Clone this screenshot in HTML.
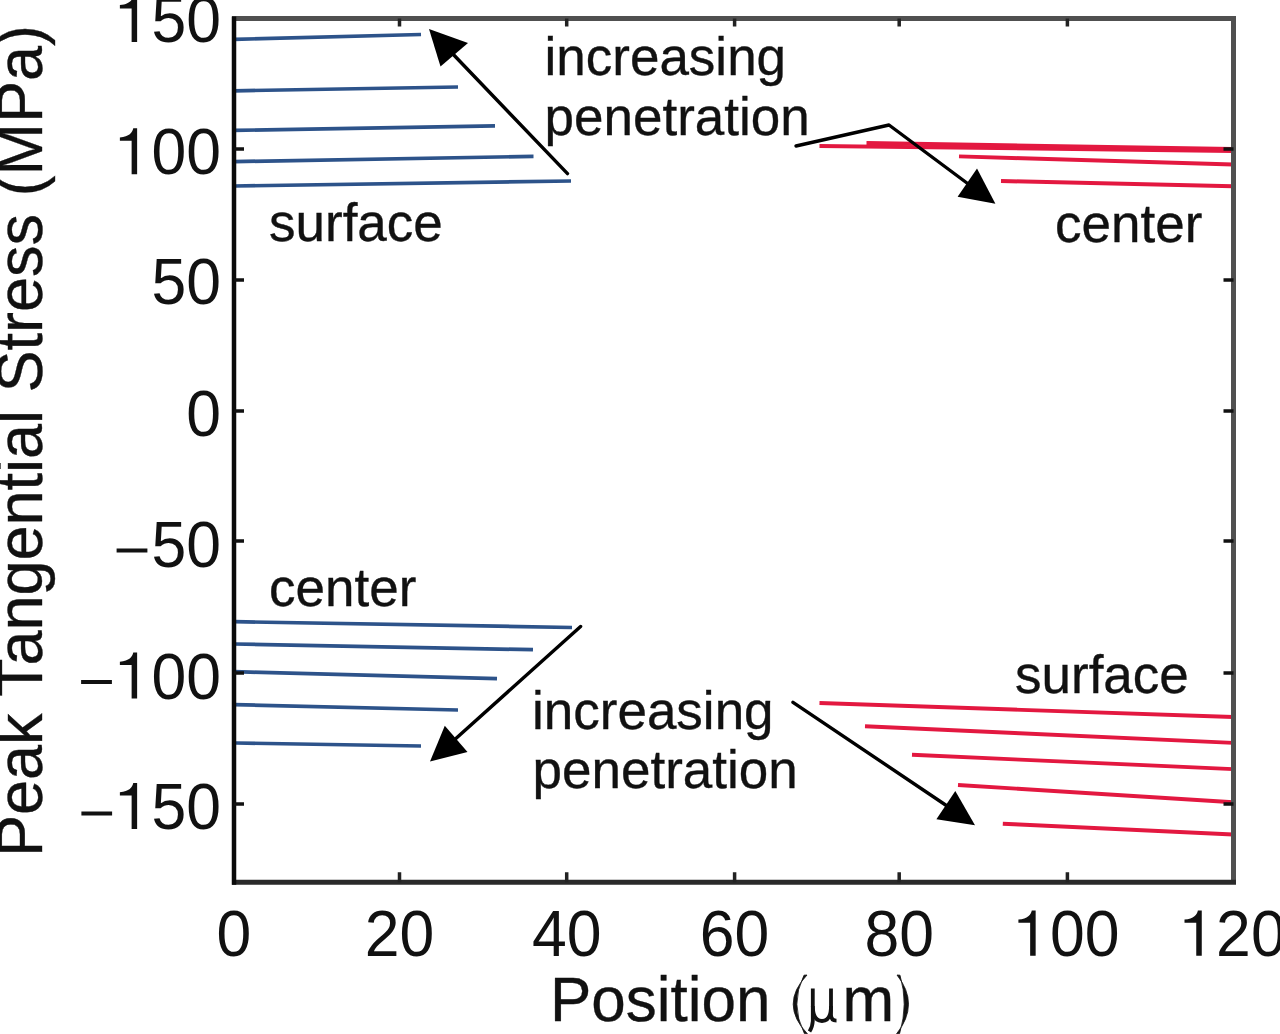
<!DOCTYPE html>
<html><head><meta charset="utf-8">
<style>
html,body{margin:0;padding:0;background:#fff;width:1280px;height:1034px;overflow:hidden}
svg{display:block;filter:blur(0.6px)}
text{font-family:"Liberation Sans",sans-serif;fill:#111;stroke:#111;stroke-width:0.35px}
text.d{stroke:none}
</style></head><body>
<svg width="1280" height="1034" viewBox="0 0 1280 1034">
<rect x="0" y="0" width="1280" height="1034" fill="#fff"/>
<defs>
<path id="one" d="M326 0V703H264C252 640 200 574 50 562V512H238V0Z"/>
</defs>

<line x1="234" y1="39.4" x2="421" y2="34.5" stroke="#2d538a" stroke-width="3.7" />
<line x1="234" y1="90.8" x2="458" y2="87" stroke="#2d538a" stroke-width="3.7" />
<line x1="234" y1="130.4" x2="495" y2="125.8" stroke="#2d538a" stroke-width="3.7" />
<line x1="234" y1="161.6" x2="533.5" y2="156.4" stroke="#2d538a" stroke-width="3.7" />
<line x1="234" y1="186" x2="571" y2="181" stroke="#2d538a" stroke-width="3.7" />
<line x1="234" y1="621.7" x2="572" y2="627.5" stroke="#2d538a" stroke-width="3.7" />
<line x1="234" y1="644" x2="533" y2="649.7" stroke="#2d538a" stroke-width="3.7" />
<line x1="234" y1="671.7" x2="497" y2="678.6" stroke="#2d538a" stroke-width="3.7" />
<line x1="234" y1="704.6" x2="458" y2="710" stroke="#2d538a" stroke-width="3.7" />
<line x1="236" y1="743" x2="421" y2="746" stroke="#2d538a" stroke-width="3.7" />
<line x1="819.5" y1="146" x2="1233" y2="151" stroke="#e31840" stroke-width="3.9" />
<line x1="866.5" y1="143" x2="1233" y2="149" stroke="#e31840" stroke-width="3.9" />
<line x1="959" y1="156.4" x2="1233" y2="164.5" stroke="#e31840" stroke-width="3.9" />
<line x1="1001" y1="181" x2="1233" y2="186.2" stroke="#e31840" stroke-width="3.9" />
<line x1="819.5" y1="703" x2="1233" y2="717" stroke="#e31840" stroke-width="3.9" />
<line x1="865" y1="726.2" x2="1233" y2="742.9" stroke="#e31840" stroke-width="3.9" />
<line x1="912" y1="754.8" x2="1233" y2="769.1" stroke="#e31840" stroke-width="3.9" />
<line x1="958" y1="785" x2="1233" y2="802.2" stroke="#e31840" stroke-width="3.9" />
<line x1="1002.8" y1="823.7" x2="1233" y2="834.5" stroke="#e31840" stroke-width="3.9" />
<line x1="234" y1="16.0" x2="1233.5" y2="16.0" stroke="#fff" stroke-width="0"/>
<line x1="232" y1="18.5" x2="1236.0" y2="18.5" stroke="#505050" stroke-width="5"/>
<line x1="1233.5" y1="18.5" x2="1233.5" y2="882.3" stroke="#505050" stroke-width="5"/>
<line x1="232" y1="882.3" x2="1236.0" y2="882.3" stroke="#2a2a2a" stroke-width="5"/>
<line x1="234" y1="16.5" x2="234" y2="884.8" stroke="#0a0a0a" stroke-width="4.5"/>
<path d="M234 149h10M1233.5 149h-10M234 280h10M1233.5 280h-10M234 411h10M1233.5 411h-10M234 541h10M1233.5 541h-10M234 673h10M1233.5 673h-10M234 804h10M1233.5 804h-10" stroke="#111" stroke-width="3.5" fill="none"/>
<path d="M399.5 882.3v-10M399.5 18.5v8M566.7 882.3v-10M566.7 18.5v8M734.6 882.3v-10M734.6 18.5v8M899.2 882.3v-10M899.2 18.5v8M1067.4 882.3v-10M1067.4 18.5v8" stroke="#222" stroke-width="3.5" fill="none"/>
<g stroke="#000" stroke-width="3.4" fill="none" stroke-linecap="round" stroke-linejoin="round">
<line x1="567.5" y1="173.6" x2="450" y2="51"/>
<polyline points="796,146 889,125 975,189"/>
<line x1="580.6" y1="626.5" x2="452" y2="742"/>
<line x1="793" y1="702.3" x2="956" y2="812"/>
</g><g fill="#000">
<polygon points="429,29 468,43 440.5,66.6"/>
<polygon points="995.4,203.7 977,168.4 957.6,196.8"/>
<polygon points="430,761.5 444.8,725.8 467.5,751.9"/>
<polygon points="975,825.2 955.3,790.9 936.4,819.2"/>
</g>
<use href="#one" transform="translate(116.75,42) scale(0.0625,-0.065625)" fill="#111"/>
<text class="d" transform="translate(151.50,42) scale(1,1.05)" font-size="62.5">5</text>
<text class="d" transform="translate(186.25,42) scale(1,1.05)" font-size="62.5">0</text>
<use href="#one" transform="translate(116.75,174.3) scale(0.0625,-0.065625)" fill="#111"/>
<text class="d" transform="translate(151.50,174.3) scale(1,1.05)" font-size="62.5">0</text>
<text class="d" transform="translate(186.25,174.3) scale(1,1.05)" font-size="62.5">0</text>
<text class="d" transform="translate(151.50,304.2) scale(1,1.05)" font-size="62.5">5</text>
<text class="d" transform="translate(186.25,304.2) scale(1,1.05)" font-size="62.5">0</text>
<text class="d" transform="translate(186.25,435.5) scale(1,1.05)" font-size="62.5">0</text>
<text class="d" transform="translate(151.50,567.3) scale(1,1.05)" font-size="62.5">5</text>
<text class="d" transform="translate(186.25,567.3) scale(1,1.05)" font-size="62.5">0</text>
<use href="#one" transform="translate(116.75,698.6) scale(0.0625,-0.065625)" fill="#111"/>
<text class="d" transform="translate(151.50,698.6) scale(1,1.05)" font-size="62.5">0</text>
<text class="d" transform="translate(186.25,698.6) scale(1,1.05)" font-size="62.5">0</text>
<use href="#one" transform="translate(116.75,829.1) scale(0.0625,-0.065625)" fill="#111"/>
<text class="d" transform="translate(151.50,829.1) scale(1,1.05)" font-size="62.5">5</text>
<text class="d" transform="translate(186.25,829.1) scale(1,1.05)" font-size="62.5">0</text>
<rect x="116.6" y="548.5" width="30.8" height="4" fill="#111"/>
<rect x="81.1" y="680" width="30.8" height="4" fill="#111"/>
<rect x="81.39999999999999" y="811.5" width="30.700000000000006" height="4" fill="#111"/>
<text class="d" transform="translate(216.62,955.7) scale(1,1.03)" font-size="62.5">0</text>
<text class="d" transform="translate(364.75,955.7) scale(1,1.03)" font-size="62.5">2</text>
<text class="d" transform="translate(399.50,955.7) scale(1,1.03)" font-size="62.5">0</text>
<text class="d" transform="translate(531.95,955.7) scale(1,1.03)" font-size="62.5">4</text>
<text class="d" transform="translate(566.70,955.7) scale(1,1.03)" font-size="62.5">0</text>
<text class="d" transform="translate(699.85,955.7) scale(1,1.03)" font-size="62.5">6</text>
<text class="d" transform="translate(734.60,955.7) scale(1,1.03)" font-size="62.5">0</text>
<text class="d" transform="translate(864.45,955.7) scale(1,1.03)" font-size="62.5">8</text>
<text class="d" transform="translate(899.20,955.7) scale(1,1.03)" font-size="62.5">0</text>
<use href="#one" transform="translate(1015.28,955.7) scale(0.0625,-0.064375)" fill="#111"/>
<text class="d" transform="translate(1050.03,955.7) scale(1,1.03)" font-size="62.5">0</text>
<text class="d" transform="translate(1084.78,955.7) scale(1,1.03)" font-size="62.5">0</text>
<use href="#one" transform="translate(1181.38,955.7) scale(0.0625,-0.064375)" fill="#111"/>
<text class="d" transform="translate(1216.12,955.7) scale(1,1.03)" font-size="62.5">2</text>
<text class="d" transform="translate(1250.88,955.7) scale(1,1.03)" font-size="62.5">0</text>
<text transform="translate(550,1020.5) scale(1.0,1.02)" font-size="62" text-anchor="start" >Position</text>
<text transform="translate(842.4,1020.5) scale(1.0,1.02)" font-size="62" text-anchor="start" >m</text>
<path d="M807 975 Q779.2 1004.2 807.4 1033.8 L804.4 1033.6 Q789.5 1004.2 804 975.2 Z" fill="#111" stroke="#111" stroke-width="0.8" stroke-linejoin="round"/>
<path d="M897 975 Q920.2 1004.2 896.6 1033.8 L899.6 1033.6 Q908.6 1004.2 900 975.2 Z" fill="#111" stroke="#111" stroke-width="0.8" stroke-linejoin="round"/>
<g stroke="#111" stroke-width="3.8" fill="none">
<path d="M812.8 988.5 V1021 Q812.5 1027 809.5 1031.5"/>
<path d="M812.8 1006 Q813 1021 822 1021 Q831 1021 831 1006"/>
<path d="M831 988.5 V1015 Q831 1020.6 836.5 1020.6"/>
</g>
<text transform="translate(42,441) rotate(-90) scale(1,1.02)" font-size="63" text-anchor="middle">Peak Tangential Stress (MPa)</text>
<text transform="translate(544.5,75) scale(1.0,1.0)" font-size="53" text-anchor="start" >increasing</text>
<text transform="translate(544.5,134.5) scale(1.0,1.0)" font-size="53" text-anchor="start" >penetration</text>
<text transform="translate(269,241.3) scale(1.0,1.0)" font-size="53" text-anchor="start" >surface</text>
<text transform="translate(1055,241.7) scale(1.0,1.0)" font-size="53" text-anchor="start" >center</text>
<text transform="translate(269,606) scale(1.0,1.0)" font-size="53" text-anchor="start" >center</text>
<text transform="translate(1015,693.2) scale(1.0,1.0)" font-size="53" text-anchor="start" >surface</text>
<text transform="translate(532,728.5) scale(1.0,1.0)" font-size="53" text-anchor="start" >increasing</text>
<text transform="translate(532.5,788.3) scale(1.0,1.0)" font-size="53" text-anchor="start" >penetration</text>
</svg>
</body></html>
